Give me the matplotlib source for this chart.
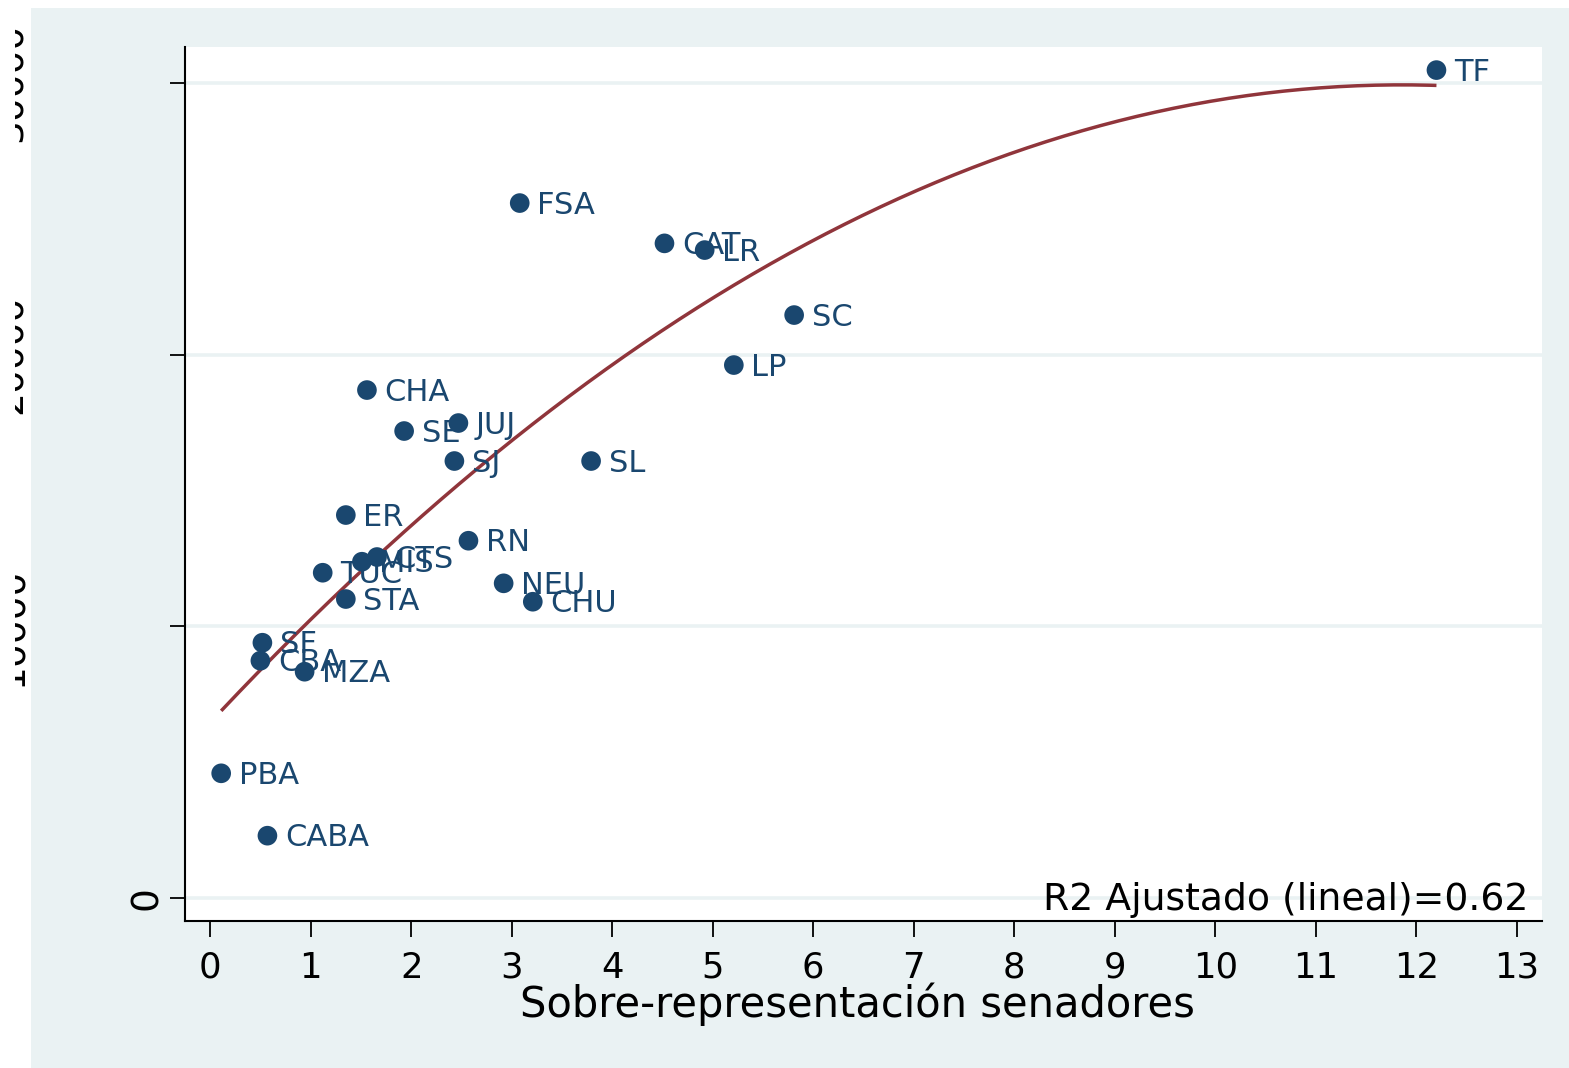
import numpy as np
import matplotlib
matplotlib.use('Agg')
import matplotlib.pyplot as plt
from matplotlib.patches import Rectangle
from matplotlib.transforms import Bbox, TransformedBbox, blended_transform_factory

plt.rcParams['font.family'] = ['DejaVu Sans']

# provincias: sobre-representacion de senadores vs valor (eje y)
provincias = ['TF', 'FSA', 'CAT', 'LR', 'SC', 'LP', 'CHA', 'JUJ', 'SE', 'SJ',
              'SL', 'ER', 'RN', 'MIS', 'CTS', 'TUC', 'NEU', 'STA', 'CHU',
              'SF', 'CBA', 'MZA', 'PBA', 'CABA']
sobre_rep = [12.20, 3.08, 4.52, 4.92, 5.81, 5.21, 1.56, 2.47, 1.93, 2.43,
             3.79, 1.35, 2.57, 1.51, 1.66, 1.12, 2.92, 1.35, 3.21,
             0.52, 0.50, 0.94, 0.11, 0.57]
valor = [30470, 25576, 24093, 23846, 21454, 19614, 18694, 17480, 17186, 16082,
         16082, 14094, 13149, 12376, 12549, 11971, 11581, 11003, 10904,
         9395, 8733, 8328, 4589, 2293]

x_ticks = list(range(0, 14))
y_ticks = [0, 10000, 20000, 30000]
r2_text = 'R2 Ajustado (lineal)=0.62'

navy = '#1a476f'
maroon = '#90353b'
bg = '#eaf2f3'

W, H = 1569, 1068
fig = plt.figure(figsize=(W / 100, H / 100), dpi=100, facecolor='white')
fig.patches.append(Rectangle((31 / W, 0), 1 - 31 / W, (H - 8) / H,
                             transform=fig.transFigure, facecolor=bg,
                             edgecolor='none', zorder=-5))

ax = fig.add_axes([185 / W, (H - 921) / H, (1542 - 185) / W, (921 - 47) / H])
ax.set_facecolor('white')
ax.set_xlim(-0.25, 13.25)
ax.set_ylim(-847, 31320)

for v in y_ticks:
    ax.axhline(v, color=bg, lw=2.6, zorder=1)

# ajuste cuadratico (qfit)
coef = np.polyfit(sobre_rep, valor, 2)
xs = np.linspace(min(sobre_rep), max(sobre_rep), 200)
ax.plot(xs, np.polyval(coef, xs), color=maroon, lw=2.5, zorder=2,
        solid_capstyle='butt')

ax.scatter(sobre_rep, valor, s=200, color=navy, edgecolors='none', zorder=3)
for name, xv, yv in zip(provincias, sobre_rep, valor):
    ax.annotate(name, (xv, yv), xytext=(12.6, -7.6), textcoords='offset points',
                ha='left', va='baseline', color=navy, fontsize=22, zorder=4)

for s in ['top', 'right']:
    ax.spines[s].set_visible(False)
for s in ['left', 'bottom']:
    ax.spines[s].set_linewidth(1.5)

ax.set_xticks(x_ticks)
ax.set_xticklabels([str(t) for t in x_ticks], fontsize=25.5)
ax.tick_params(axis='x', length=11.5, width=1.3, pad=10)
ax.set_yticks(y_ticks)
ax.set_yticklabels([])
ax.tick_params(axis='y', length=11, width=1.3)

# etiquetas del eje y rotadas (recortadas en el borde izquierdo)
trans = blended_transform_factory(fig.transFigure, ax.transData)
clip = TransformedBbox(Bbox([[15 / W, 0], [1, 1]]), fig.transFigure)
for v in y_ticks:
    xc = 147 / W if v == 0 else 12 / W
    t = ax.text(xc, v, str(v), transform=trans, rotation=90, ha='center',
                va='center', fontsize=27, clip_on=True)
    t.set_clip_box(clip)

fig.text(857 / W, (H - 1017) / H, 'Sobre-representación senadores',
         ha='center', va='baseline', fontsize=30)
fig.text(1528 / W, (H - 910) / H, r2_text, ha='right', va='baseline',
         fontsize=27.2)

fig.savefig('out.png', dpi=100, facecolor='white')
